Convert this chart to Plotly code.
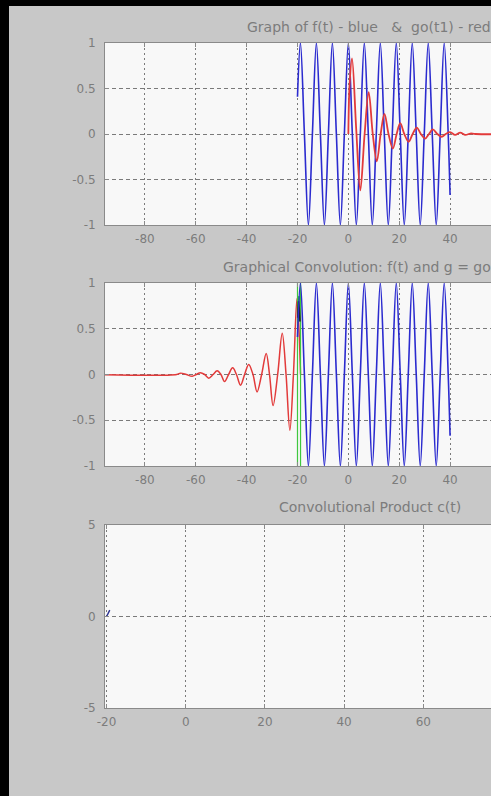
import plotly.graph_objects as go

W, H = 491, 796

# ---------------- data ----------------
# f(t): blue signal, defined on [-20, 40]
f_t = [-20.0, -18.85, -17.28, -15.71, -14.14, -12.57, -10.99, -9.42, -7.85, -6.28,
       -4.71, -3.14, -1.57, 0.0, 1.57, 3.14, 4.71, 6.28, 7.85, 9.42,
       10.99, 12.57, 14.14, 15.71, 17.28, 18.85, 20.42, 21.99, 23.56, 25.13,
       26.70, 28.27, 29.85, 31.42, 32.99, 34.56, 36.13, 37.70, 39.27, 40.0]
f_v = [0.41, 1, 0, -1, 0, 1, 0, -1, 0, 1,
       0, -1, 0, 1, 0, -1, 0, 1, 0, -1,
       0, 1, 0, -1, 0, 1, 0, -1, 0, 1,
       0, -1, 0, 1, 0, -1, 0, 1, 0, -0.67]

# go(t1): red damped response (top panel)
go_t = [0, 0.5, 1.45, 3.1, 4.7, 6.4, 8.0, 9.6, 11.2, 12.7, 14.2, 15.8, 17.5, 19.0,
        20.4, 22.0, 23.7, 25.3, 26.9, 28.5, 30.2, 31.7, 33.2, 35.0, 36.7, 38.3,
        40.0, 42.0, 44.0, 46.0, 48.0, 50.0, 100.0]
go_v = [0, 0.55, 0.83, 0.05, -0.62, 0.0, 0.46, 0.0, -0.30, 0.0, 0.22, 0.0, -0.16, 0.0,
        0.12, 0.0, -0.085, 0.0, 0.07, 0.0, -0.05, 0.0, 0.05, 0.0, -0.03, 0.0,
        0.02, -0.01, 0.015, -0.01, 0.005, 0.0, 0.0]

# g = go(-t+t0): red, flipped (middle panel)
g_t = [-100.0, -67.5, -66.0, -63.7, -61.4, -59.8, -58.2, -56.5, -54.9, -53.2, -51.6,
       -50.1, -48.7, -47.1, -45.5, -44.0, -42.4, -40.8, -39.2, -37.5, -35.9, -34.1,
       -32.3, -31.0, -29.6, -27.8, -26.0, -24.5, -23.0, -21.6, -20.2, -19.5, -18.8]
g_v = [0.0, 0.0, 0.015, 0.0, -0.02, 0.0, 0.02, 0.0, -0.04, 0.0, 0.04,
       0.0, -0.077, 0.0, 0.073, 0.0, -0.117, 0.0, 0.11, 0.0, -0.19, 0.0,
       0.23, 0.0, -0.34, 0.0, 0.45, 0.0, -0.61, 0.0, 0.83, 0.55, 0.0]

# overlap limits (green) and product in the overlap (black)
overlap_t = [-20.0, -18.8]
prod_t = [-19.9, -19.6, -19.3, -19.0]
prod_v = [0.62, 0.80, 0.72, 0.58]
fill_t = [-20.0, -20.0, -19.0, -19.0]
fill_v = [0.58, 0.85, 0.85, 0.58]

# c(t): convolution product (bottom panel)
c_t = [-20.0, -19.2]
c_v = [0.0, 0.35]

# ticks
x12_ticks = [-80, -60, -40, -20, 0, 20, 40, 60]
x12_labels = ["-80", "-60", "-40", "-20", "0", "20", "40", "60"]
y12_ticks = [-1, -0.5, 0, 0.5, 1]
y12_labels = ["-1", "-0.5", "0", "0.5", "1"]
x3_ticks = [-20, 0, 20, 40, 60, 80]
x3_labels = ["-20", "0", "20", "40", "60", "80"]
y3_ticks = [-5, 0, 5]
y3_labels = ["-5", "0", "5"]

titles = ["Graph of f(t) - blue   &  go(t1) - red",
          "Graphical Convolution: f(t) and g = go(-t+t0)",
          "Convolutional Product c(t)"]

# ---------------- styling ----------------
BG = "#c8c8c8"
PLOT_BG = "#f8f8f8"
TXT = "#7c7c7c"
AX = "#8a8a8a"
GRID = "#7a7a7a"
BLUE = "#2b2bcf"
RED = "#e23a3a"
FONT = "DejaVu Sans"

def ydom(top, bottom):
    return [1 - bottom / H, 1 - top / H]

fig = go.Figure()

# top panel: f blue, go red on top
fig.add_trace(go.Scatter(x=f_t, y=f_v, mode="lines", line=dict(color=BLUE, width=1.6, shape="spline"),
                         xaxis="x", yaxis="y", showlegend=False))
fig.add_trace(go.Scatter(x=go_t, y=go_v, mode="lines", line=dict(color=RED, width=1.8, shape="spline"),
                         xaxis="x", yaxis="y", showlegend=False))

# middle panel
fig.add_trace(go.Scatter(x=g_t, y=g_v, mode="lines", line=dict(color=RED, width=1.5, shape="spline"),
                         xaxis="x2", yaxis="y2", showlegend=False))
fig.add_trace(go.Scatter(x=fill_t, y=fill_v, mode="lines", fill="toself", fillcolor="#3fd03f",
                         line=dict(color="#3fd03f", width=1), xaxis="x2", yaxis="y2", showlegend=False))
for t in overlap_t:
    fig.add_trace(go.Scatter(x=[t, t], y=[y12_ticks[0], y12_ticks[-1]], mode="lines",
                             line=dict(color="#3fc83f", width=1.2), xaxis="x2", yaxis="y2", showlegend=False))
fig.add_trace(go.Scatter(x=prod_t, y=prod_v, mode="lines", line=dict(color="#202020", width=1.6),
                         xaxis="x2", yaxis="y2", showlegend=False))
fig.add_trace(go.Scatter(x=f_t, y=f_v, mode="lines", line=dict(color=BLUE, width=1.6, shape="spline"),
                         xaxis="x2", yaxis="y2", showlegend=False))

# bottom panel
fig.add_trace(go.Scatter(x=c_t, y=c_v, mode="lines", line=dict(color="#2a3090", width=1.4),
                         xaxis="x3", yaxis="y3", showlegend=False))

common_x = dict(showgrid=True, gridcolor=GRID, griddash="2px,3px", gridwidth=1,
                showline=True, linecolor=AX, linewidth=1, mirror="ticks",
                ticks="inside", ticklen=4, tickcolor=AX, zeroline=False, ticklabelstandoff=3,
                tickfont=dict(family=FONT, size=12, color=TXT), tickmode="array", automargin=False)
common_y = dict(showgrid=True, gridcolor=GRID, griddash="4px,3px", gridwidth=1,
                showline=True, linecolor=AX, linewidth=1, mirror=False,
                ticks="inside", ticklen=4, tickcolor=AX, zeroline=False, ticklabelstandoff=6,
                tickfont=dict(family=FONT, size=12, color=TXT), tickmode="array", automargin=False)

xdom = [105 / W, 1]
fig.update_layout(
    width=W, height=H,
    margin=dict(l=0, r=0, t=0, b=0, autoexpand=False),
    paper_bgcolor=BG, plot_bgcolor=PLOT_BG,
    xaxis=dict(common_x, domain=xdom, range=[-95.7, 56.1], tickvals=x12_ticks, ticktext=x12_labels, anchor="y"),
    yaxis=dict(common_y, domain=ydom(43, 225), range=[-1, 1], tickvals=y12_ticks, ticktext=y12_labels, anchor="x"),
    xaxis2=dict(common_x, domain=xdom, range=[-95.7, 56.1], tickvals=x12_ticks, ticktext=x12_labels, anchor="y2"),
    yaxis2=dict(common_y, domain=ydom(283, 466), range=[-1, 1], tickvals=y12_ticks, ticktext=y12_labels, anchor="x2"),
    xaxis3=dict(common_x, domain=xdom, range=[-20.4, 77.1], tickvals=x3_ticks, ticktext=x3_labels, anchor="y3"),
    yaxis3=dict(common_y, domain=ydom(525, 708), range=[-5, 5], tickvals=y3_ticks, ticktext=y3_labels, anchor="x3"),
)

# titles
for txt, (px, py) in zip(titles, [(245, 27), (221, 267), (277, 507)]):
    fig.add_annotation(text=txt, xref="paper", yref="paper", x=px / W, y=1 - py / H,
                       xanchor="left", yanchor="middle", showarrow=False,
                       font=dict(family=FONT, size=14, color=TXT))

# black window border (left and top)
fig.add_shape(type="rect", xref="paper", yref="paper", x0=0, x1=9 / W, y0=0, y1=1,
              fillcolor="#000000", line=dict(width=0), layer="above")
fig.add_shape(type="rect", xref="paper", yref="paper", x0=0, x1=1, y0=1 - 6 / H, y1=1,
              fillcolor="#000000", line=dict(width=0), layer="above")

fig.write_html("out.html", config={"responsive": False, "displayModeBar": False},
               post_script="document.body.style.margin='0';document.body.style.overflow='hidden';")
